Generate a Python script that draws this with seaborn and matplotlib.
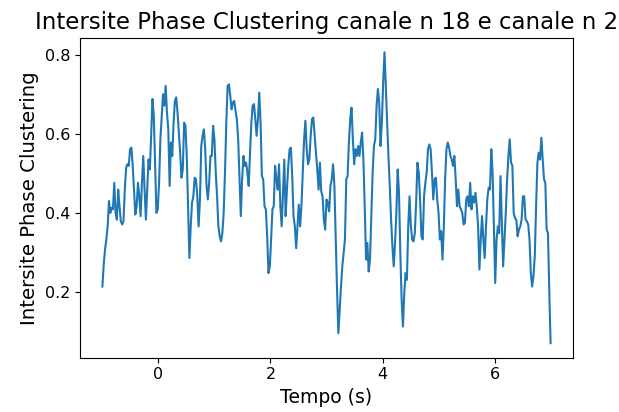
import numpy as np
import pandas as pd
import matplotlib
matplotlib.use("Agg")
import matplotlib.pyplot as plt
import seaborn as sns

ipc_values = [
    # -1.0 .. ~0.2 s
    0.215, 0.270, 0.308, 0.334, 0.367, 0.431, 0.401, 0.414, 0.410, 0.477,
    0.401, 0.384, 0.460, 0.418, 0.380, 0.372, 0.380, 0.460, 0.515, 0.524,
    0.520, 0.562, 0.566, 0.520, 0.460, 0.397, 0.418, 0.477, 0.443, 0.393,
    0.477, 0.545, 0.460, 0.384, 0.460, 0.536, 0.511, 0.596, 0.689, 0.646,
    0.520, 0.401, 0.410, 0.477, 0.587, 0.646, 0.701, 0.672, 0.722, 0.655,
    0.612, 0.469, 0.579,
    # ~0.2 .. 1.5 s
    0.545, 0.629, 0.684, 0.693, 0.655, 0.604, 0.553, 0.490, 0.511, 0.629,
    0.621, 0.545, 0.418, 0.287, 0.367, 0.427, 0.443, 0.490, 0.486, 0.443,
    0.367, 0.435, 0.570, 0.596, 0.612, 0.562, 0.469, 0.435, 0.477, 0.545,
    0.545, 0.621, 0.587, 0.503, 0.443, 0.367, 0.342, 0.329, 0.350, 0.401,
    0.503, 0.629, 0.722, 0.726, 0.697, 0.663, 0.680, 0.684, 0.659, 0.638,
    0.587, 0.486, 0.393, 0.486, 0.545, 0.520,
    # ~1.5 .. 2.9 s
    0.528, 0.503, 0.469, 0.553, 0.629, 0.672, 0.676, 0.638, 0.596, 0.638,
    0.705, 0.629, 0.494, 0.486, 0.418, 0.410, 0.342, 0.249, 0.266, 0.334,
    0.410, 0.418, 0.520, 0.486, 0.460, 0.524, 0.418, 0.367, 0.452, 0.536,
    0.393, 0.460, 0.520, 0.562, 0.566, 0.494, 0.393, 0.367, 0.312, 0.367,
    0.422, 0.367, 0.418, 0.503, 0.587, 0.634, 0.562, 0.524, 0.536, 0.596,
    0.638, 0.642, 0.596, 0.553, 0.511, 0.460, 0.528,
    # ~2.9 .. 4.2 s
    0.456, 0.443, 0.384, 0.359, 0.435, 0.427, 0.405, 0.469, 0.486, 0.524,
    0.469, 0.334, 0.207, 0.097, 0.156, 0.215, 0.266, 0.300, 0.334, 0.486,
    0.494, 0.579, 0.638, 0.667, 0.587, 0.524, 0.562, 0.545, 0.570, 0.545,
    0.579, 0.604, 0.536, 0.418, 0.283, 0.325, 0.253, 0.283, 0.393, 0.503,
    0.570, 0.587, 0.672, 0.714, 0.680, 0.570, 0.629, 0.731, 0.807, 0.722,
    0.629, 0.545, 0.469, 0.384, 0.317, 0.266, 0.325,
    # ~4.2 .. 5.5 s
    0.401, 0.511, 0.452, 0.300, 0.182, 0.114, 0.198, 0.249, 0.232, 0.367,
    0.443, 0.367, 0.334, 0.329, 0.350, 0.427, 0.528, 0.503, 0.435, 0.342,
    0.334, 0.443, 0.477, 0.503, 0.562, 0.574, 0.562, 0.503, 0.435, 0.486,
    0.490, 0.435, 0.401, 0.334, 0.355, 0.283, 0.367, 0.486, 0.562, 0.579,
    0.566, 0.545, 0.536, 0.520, 0.545, 0.486, 0.418, 0.460, 0.418, 0.410,
    0.401, 0.372, 0.376, 0.435, 0.443, 0.418,
    # ~5.5 .. 7.0 s
    0.477, 0.410, 0.443, 0.427, 0.452, 0.418, 0.367, 0.258, 0.334, 0.393,
    0.334, 0.287, 0.367, 0.435, 0.465, 0.460, 0.562, 0.503, 0.367, 0.224,
    0.334, 0.367, 0.350, 0.494, 0.376, 0.266, 0.334, 0.401, 0.486, 0.545,
    0.587, 0.528, 0.520, 0.401, 0.388, 0.384, 0.342, 0.359, 0.367, 0.384,
    0.443, 0.443, 0.384, 0.380, 0.372, 0.334, 0.249, 0.215, 0.241, 0.291,
    0.418, 0.528, 0.553, 0.536, 0.591, 0.536, 0.486, 0.477, 0.359, 0.350,
    0.203, 0.072,
]
t_start, t_end = -1.0, 7.0
tempo = np.linspace(t_start, t_end, len(ipc_values))

title_text = "Intersite Phase Clustering canale n 18 e canale n 2"
x_label = "Tempo (s)"
y_label = "Intersite Phase Clustering"

df = pd.DataFrame({"tempo": tempo, "ipc": ipc_values})

fig = plt.figure(figsize=(6.19, 4.12), dpi=100)
ax = fig.add_axes([0.1292, 0.1318, 0.7965, 0.7767])
sns.lineplot(data=df, x="tempo", y="ipc", ax=ax, color="#1f77b4", linewidth=1.5)

ax.set_title(title_text, fontsize=16.5)
ax.set_xlabel(x_label, fontsize=13.5)
ax.set_ylabel(y_label, fontsize=14.2)
ax.tick_params(labelsize=11.5)
ax.set_xticks([0, 2, 4, 6])
ax.set_yticks([0.2, 0.4, 0.6, 0.8])

fig.savefig("out.png", dpi=100)
